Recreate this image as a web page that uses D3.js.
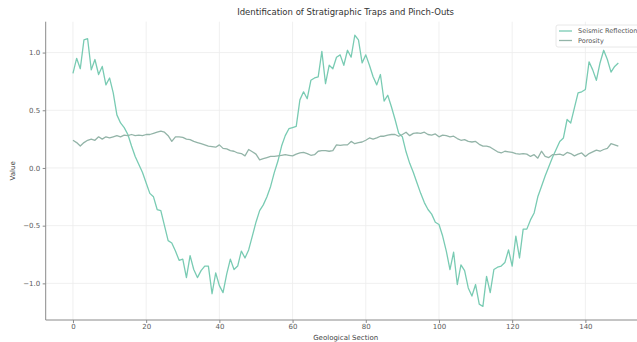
<!DOCTYPE html>
<html><head><meta charset="utf-8">
<script src="https://cdn.jsdelivr.net/npm/d3@7"></script>
<style>body{margin:0;background:#fff}svg{display:block}text{font-family:"DejaVu Sans",sans-serif}</style>
</head><body><svg id="c" width="637" height="342"></svg>
<script>
const title = "Identification of Stratigraphic Traps and Pinch-Outs";
const xLabel = "Geological Section";
const yLabel = "Value";
const seriesNames = ["Seismic Reflection", "Porosity"];
const xTicks = [0, 20, 40, 60, 80, 100, 120, 140];
const yTicks = [-1.0, -0.5, 0.0, 0.5, 1.0];
const seismic = [0.82,0.95,0.86,1.11,1.12,0.85,0.94,0.81,0.88,0.72,0.78,0.65,0.46,0.39,0.35,0.29,0.19,0.10,0.03,-0.04,
-0.13,-0.22,-0.25,-0.36,-0.37,-0.50,-0.63,-0.65,-0.72,-0.80,
-0.79,-0.95,-0.76,-0.88,-0.95,-0.89,-0.85,-0.85,-1.09,-0.91,-1.02,-1.08,-0.92,-0.79,-0.88,-0.85,-0.72,-0.78,-0.71,-0.59,
-0.47,-0.37,-0.32,-0.25,-0.16,-0.04,0.06,0.19,0.28,0.34,
0.35,0.36,0.59,0.66,0.60,0.76,0.78,0.79,1.01,0.73,0.89,0.86,0.96,0.98,0.89,1.02,0.96,1.15,1.11,0.91,
0.98,0.89,0.79,0.72,0.81,0.58,0.63,0.53,0.42,0.30,
0.27,0.14,0.04,-0.04,-0.13,-0.22,-0.30,-0.36,-0.40,-0.47,-0.49,-0.59,-0.72,-0.88,-0.73,-1.01,-0.84,-0.89,-1.04,-1.11,
-1.01,-1.18,-1.20,-0.94,-1.08,-0.88,-0.86,-0.85,-0.82,-0.71,
-0.85,-0.59,-0.78,-0.53,-0.53,-0.45,-0.39,-0.25,-0.16,-0.07,0.01,0.09,0.16,0.23,0.26,0.42,0.39,0.52,0.65,0.66,
0.68,0.92,0.85,0.76,0.91,1.02,0.94,0.83,0.88,0.91];
const porosity = [0.24,0.22,0.19,0.22,0.24,0.25,0.24,0.27,0.25,0.27,0.26,0.27,0.28,0.27,0.285,0.28,0.29,0.28,0.285,0.28,
0.29,0.29,0.30,0.31,0.32,0.31,0.28,0.23,0.27,0.27,
0.265,0.25,0.245,0.23,0.22,0.21,0.20,0.19,0.185,0.18,0.20,0.17,0.165,0.15,0.145,0.13,0.125,0.105,0.16,0.14,
0.12,0.07,0.08,0.09,0.10,0.10,0.105,0.11,0.115,0.11,
0.105,0.12,0.13,0.135,0.125,0.11,0.115,0.145,0.15,0.15,0.145,0.15,0.20,0.195,0.20,0.20,0.23,0.21,0.22,0.225,
0.24,0.26,0.25,0.26,0.275,0.275,0.285,0.29,0.29,0.275,
0.29,0.31,0.28,0.30,0.305,0.30,0.31,0.29,0.285,0.295,0.27,0.285,0.28,0.27,0.275,0.255,0.24,0.245,0.23,0.225,
0.23,0.205,0.19,0.19,0.18,0.16,0.14,0.13,0.145,0.14,
0.135,0.125,0.12,0.125,0.12,0.10,0.115,0.085,0.145,0.10,0.09,0.115,0.115,0.12,0.11,0.135,0.125,0.105,0.12,0.13,
0.10,0.125,0.14,0.155,0.145,0.16,0.17,0.21,0.20,0.19];
const colors = ["#79cbb3", "#93b4a8"];

const svg = d3.select("#c");
const L = 45.7, R = 645.6, T = 21.7, B = 320;
const n = seismic.length;
const xMin = 0, xMax = n - 1, xPad = (xMax - xMin) * 0.05;
const all = seismic.concat(porosity);
const yMinV = d3.min(all), yMaxV = d3.max(all), yPad = (yMaxV - yMinV) * 0.05;
const x = d3.scaleLinear().domain([xMin - xPad, xMax + xPad]).range([L, R]);
const y = d3.scaleLinear().domain([yMinV - yPad, yMaxV + yPad]).range([B, T]);

// grid
const g = svg.append("g");
g.selectAll(".gx").data(xTicks).join("line").attr("x1", d => x(d)).attr("x2", d => x(d))
  .attr("y1", T).attr("y2", B).attr("stroke", "#ececec").attr("stroke-width", 0.8);
g.selectAll(".gy").data(yTicks).join("line").attr("y1", d => y(d)).attr("y2", d => y(d))
  .attr("x1", L).attr("x2", R).attr("stroke", "#ececec").attr("stroke-width", 0.8);

// axes
const xAxis = svg.append("g").attr("transform", `translate(0,${B})`)
  .call(d3.axisBottom(x).tickValues(xTicks).tickSize(3).tickPadding(1.5).tickFormat(d3.format("d")));
const yAxis = svg.append("g").attr("transform", `translate(${L},0)`)
  .call(d3.axisLeft(y).tickValues(yTicks).tickSize(3).tickPadding(2.5).tickFormat(d3.format(".1f")));
[xAxis, yAxis].forEach(a => {
  a.select(".domain").attr("stroke", "#8a8a8a").attr("stroke-width", 1);
  a.selectAll(".tick line").attr("stroke", "#8a8a8a");
  a.selectAll(".tick text").attr("fill", "#5a5a5a").style("font-size", "7px").style("font-family", "DejaVu Sans");
});
xAxis.select(".domain").attr("d", `M${L},0H${R}`);
yAxis.select(".domain").attr("d", `M0,${T}V${B}`);
yAxis.selectAll(".tick text").text(d => d3.format(".1f")(d).replace("-", "\u2212"));

// lines
const line = d3.line().x((d, i) => x(i)).y(d => y(d));
[seismic, porosity].forEach((s, k) => {
  svg.append("path").datum(s).attr("d", line).attr("fill", "none")
    .attr("stroke", colors[k]).attr("stroke-width", 1.3).attr("stroke-linejoin", "round");
});

// title & labels
svg.append("text").attr("x", (L + R) / 2).attr("y", 15).attr("text-anchor", "middle")
  .style("font-size", "8.5px").attr("fill", "#333").text(title);
svg.append("text").attr("x", (L + R) / 2).attr("y", 339.5).attr("text-anchor", "middle")
  .style("font-size", "7px").attr("fill", "#444").text(xLabel);
svg.append("text").attr("transform", `translate(15,${(T + B) / 2}) rotate(-90)`).attr("text-anchor", "middle")
  .style("font-size", "7px").attr("fill", "#444").text(yLabel);

// legend
const lg = svg.append("g").attr("transform", "translate(556,25)");
lg.append("rect").attr("x", 0).attr("y", 0).attr("width", 100).attr("height", 22).attr("rx", 2)
  .attr("fill", "#fff").attr("fill-opacity", 0.8).attr("stroke", "#e2e2e2").attr("stroke-width", 0.8);
seriesNames.forEach((nm, k) => {
  const yy = 6 + k * 9.5;
  lg.append("line").attr("x1", 3).attr("x2", 16).attr("y1", yy).attr("y2", yy)
    .attr("stroke", colors[k]).attr("stroke-width", 1.3);
  lg.append("text").attr("x", 22).attr("y", yy + 2.2).style("font-size", "6.5px").attr("fill", "#555").text(nm);
});
</script></body></html>
